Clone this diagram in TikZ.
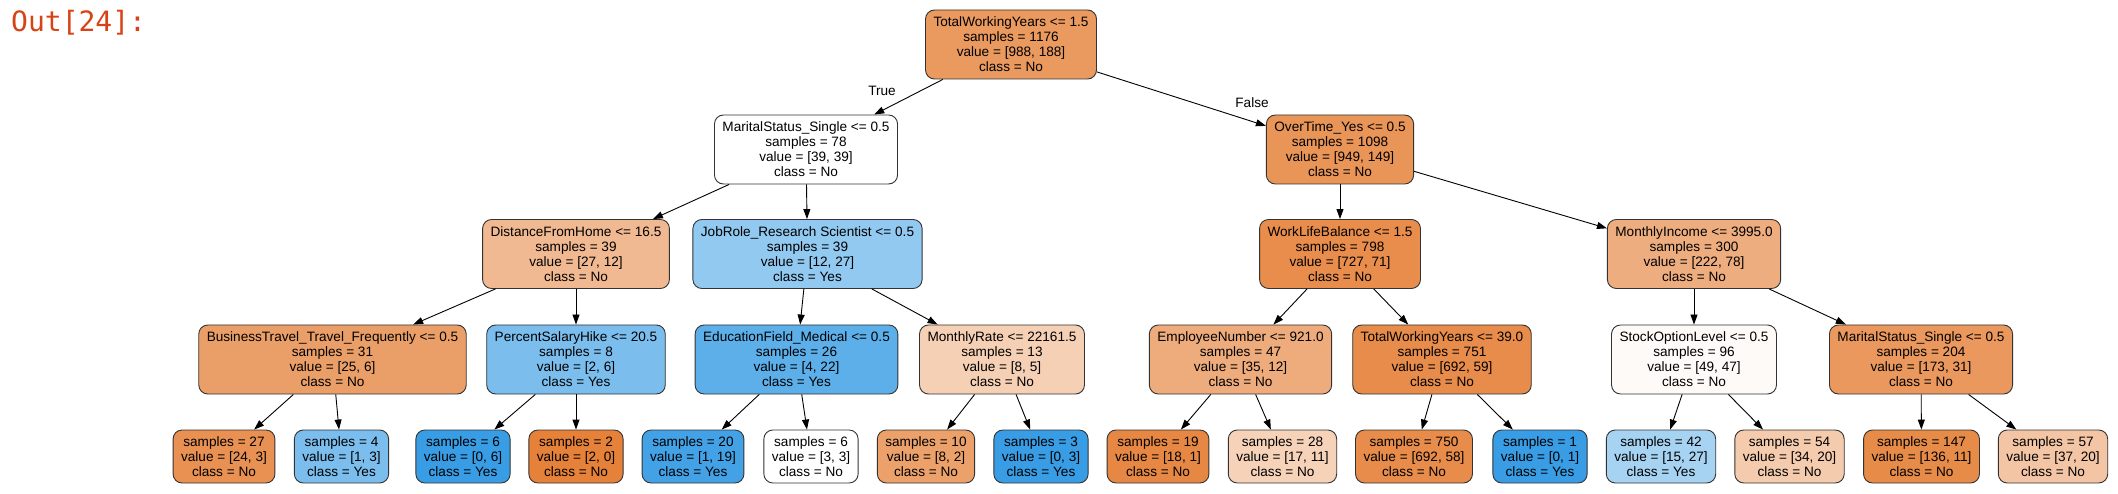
\documentclass[tikz,border=0pt]{standalone}
\usepackage{fontspec}
\setmainfont{Liberation Sans}
\newfontfamily\promptfont{DejaVu Sans Mono}
\usetikzlibrary{arrows.meta}

\definecolor{promptcol}{RGB}{216,67,21}
% fill colours of the tree (class No = orange, class Yes = blue)
\definecolor{colroot}{RGB}{234,153,95}
\definecolor{colot}{RGB}{233,149,88}
\definecolor{coldist}{RGB}{241,185,145}
\definecolor{coljob}{RGB}{145,201,241}
\definecolor{colwlb}{RGB}{232,141,76}
\definecolor{colinc}{RGB}{238,173,127}
\definecolor{colbt}{RGB}{235,159,104}
\definecolor{colpsh}{RGB}{123,190,238}
\definecolor{coledu}{RGB}{93,175,234}
\definecolor{colrate}{RGB}{245,208,181}
\definecolor{colemp}{RGB}{238,172,125}
\definecolor{coltwy}{RGB}{231,140,74}
\definecolor{colsol}{RGB}{254,250,247}
\definecolor{colmstwo}{RGB}{234,152,93}
\definecolor{colyes}{RGB}{57,157,229}
\definecolor{colno}{RGB}{229,129,57}
\definecolor{colsa}{RGB}{232,145,82}
\definecolor{colsb}{RGB}{67,162,230}
\definecolor{colsc}{RGB}{236,161,107}
\definecolor{colsd}{RGB}{230,136,68}
\definecolor{colse}{RGB}{246,210,185}
\definecolor{colsf}{RGB}{167,211,243}
\definecolor{colsg}{RGB}{244,203,173}
\definecolor{colsh}{RGB}{231,139,73}
\definecolor{colsi}{RGB}{243,197,164}

\tikzset{
	tree/.style = {draw = black!80, line width = 0.9pt, rounded corners = 9pt,
		align = center, inner xsep = 8pt, inner ysep = 2pt,
		font = \fontsize{13.6}{15}\selectfont},
	split/.style = {tree, minimum height = 69pt},
	leaf/.style  = {tree, minimum height = 53pt},
	edge/.style  = {line width = 0.9pt, -{Triangle[length = 10pt, width = 7pt]}},
}

\begin{document}
\begin{tikzpicture}[x = 1pt, y = -1pt]
	\useasboundingbox (0, 0) rectangle (2118, 494);
	% notebook prompt
	\node[anchor = base west, inner sep = 0, text = promptcol,
		font = \promptfont\fontsize{28}{28}\selectfont] (prompt) at (11, 32) {Out[24]:};
	% root
	\node[split, fill = colroot] (root) at (1011, 44.5)
		{TotalWorkingYears <= 1.5\\samples = 1176\\value = [988, 188]\\class = No};
	% first level
	\node[split, fill = white] (ms) at (806, 149.5)
		{MaritalStatus\_Single <= 0.5\\samples = 78\\value = [39, 39]\\class = No};
	\node[split, fill = colot] (ot) at (1340, 149.5)
		{OverTime\_Yes <= 0.5\\samples = 1098\\value = [949, 149]\\class = No};
	\node[font = \fontsize{13.6}{15}\selectfont] (true) at (882, 91) {True};
	\node[font = \fontsize{13.6}{15}\selectfont] (false) at (1252, 103) {False};
	% second level
	\node[split, fill = coldist] (dist) at (576, 254)
		{DistanceFromHome <= 16.5\\samples = 39\\value = [27, 12]\\class = No};
	\node[split, fill = coljob] (job) at (807.5, 254)
		{JobRole\_Research Scientist <= 0.5\\samples = 39\\value = [12, 27]\\class = Yes};
	\node[split, fill = colwlb] (wlb) at (1340, 254)
		{WorkLifeBalance <= 1.5\\samples = 798\\value = [727, 71]\\class = No};
	\node[split, fill = colinc] (inc) at (1694, 254)
		{MonthlyIncome <= 3995.0\\samples = 300\\value = [222, 78]\\class = No};
	% third level
	\node[split, fill = colbt] (bt) at (332.5, 359.5)
		{BusinessTravel\_Travel\_Frequently <= 0.5\\samples = 31\\value = [25, 6]\\class = No};
	\node[split, fill = colpsh] (psh) at (576, 359.5)
		{PercentSalaryHike <= 20.5\\samples = 8\\value = [2, 6]\\class = Yes};
	\node[split, fill = coledu] (edu) at (796.5, 359.5)
		{EducationField\_Medical <= 0.5\\samples = 26\\value = [4, 22]\\class = Yes};
	\node[split, fill = colrate] (rate) at (1002, 359.5)
		{MonthlyRate <= 22161.5\\samples = 13\\value = [8, 5]\\class = No};
	\node[split, fill = colemp] (emp) at (1240.5, 359.5)
		{EmployeeNumber <= 921.0\\samples = 47\\value = [35, 12]\\class = No};
	\node[split, fill = coltwy] (twy) at (1442, 359.5)
		{TotalWorkingYears <= 39.0\\samples = 751\\value = [692, 59]\\class = No};
	\node[split, fill = colsol] (sol) at (1694, 359.5)
		{StockOptionLevel <= 0.5\\samples = 96\\value = [49, 47]\\class = No};
	\node[split, fill = colmstwo] (mstwo) at (1921, 359.5)
		{MaritalStatus\_Single <= 0.5\\samples = 204\\value = [173, 31]\\class = No};
	% leaves
	\node[leaf, fill = colsa]   (s27)  at (224, 456.5)  {samples = 27\\value = [24, 3]\\class = No};
	\node[leaf, fill = colpsh]  (s4)   at (341.5, 456.5) {samples = 4\\value = [1, 3]\\class = Yes};
	\node[leaf, fill = colyes]  (s6a)  at (463, 456.5)  {samples = 6\\value = [0, 6]\\class = Yes};
	\node[leaf, fill = colno]   (s2)   at (576, 456.5)  {samples = 2\\value = [2, 0]\\class = No};
	\node[leaf, fill = colsb]   (s20)  at (693, 456.5)  {samples = 20\\value = [1, 19]\\class = Yes};
	\node[leaf, fill = white]   (s6b)  at (811, 456.5)  {samples = 6\\value = [3, 3]\\class = No};
	\node[leaf, fill = colsc]   (s10)  at (926, 456.5)  {samples = 10\\value = [8, 2]\\class = No};
	\node[leaf, fill = colyes]  (s3)   at (1041, 456.5) {samples = 3\\value = [0, 3]\\class = Yes};
	\node[leaf, fill = colsd]   (s19)  at (1158, 456.5) {samples = 19\\value = [18, 1]\\class = No};
	\node[leaf, fill = colse]   (s28)  at (1282.5, 456.5) {samples = 28\\value = [17, 11]\\class = No};
	\node[leaf, fill = coltwy]  (s750) at (1414, 456.5) {samples = 750\\value = [692, 58]\\class = No};
	\node[leaf, fill = colyes]  (s1)   at (1540, 456.5) {samples = 1\\value = [0, 1]\\class = Yes};
	\node[leaf, fill = colsf]   (s42)  at (1661, 456.5) {samples = 42\\value = [15, 27]\\class = Yes};
	\node[leaf, fill = colsg]   (s54)  at (1789.5, 456.5) {samples = 54\\value = [34, 20]\\class = No};
	\node[leaf, fill = colsh]   (s147) at (1921.5, 456.5) {samples = 147\\value = [136, 11]\\class = No};
	\node[leaf, fill = colsi]   (s57)  at (2053, 456.5) {samples = 57\\value = [37, 20]\\class = No};
	% edges
	\foreach \a/\b in {root/ms, root/ot, ms/dist, ms/job, ot/wlb, ot/inc,
			dist/bt, dist/psh, job/edu, job/rate, wlb/emp, wlb/twy, inc/sol, inc/mstwo,
			bt/s27, bt/s4, psh/s6a, psh/s2, edu/s20, edu/s6b, rate/s10, rate/s3,
			emp/s19, emp/s28, twy/s750, twy/s1, sol/s42, sol/s54, mstwo/s147, mstwo/s57}
		\draw[edge] (\a) -- (\b);
\end{tikzpicture}
\end{document}
